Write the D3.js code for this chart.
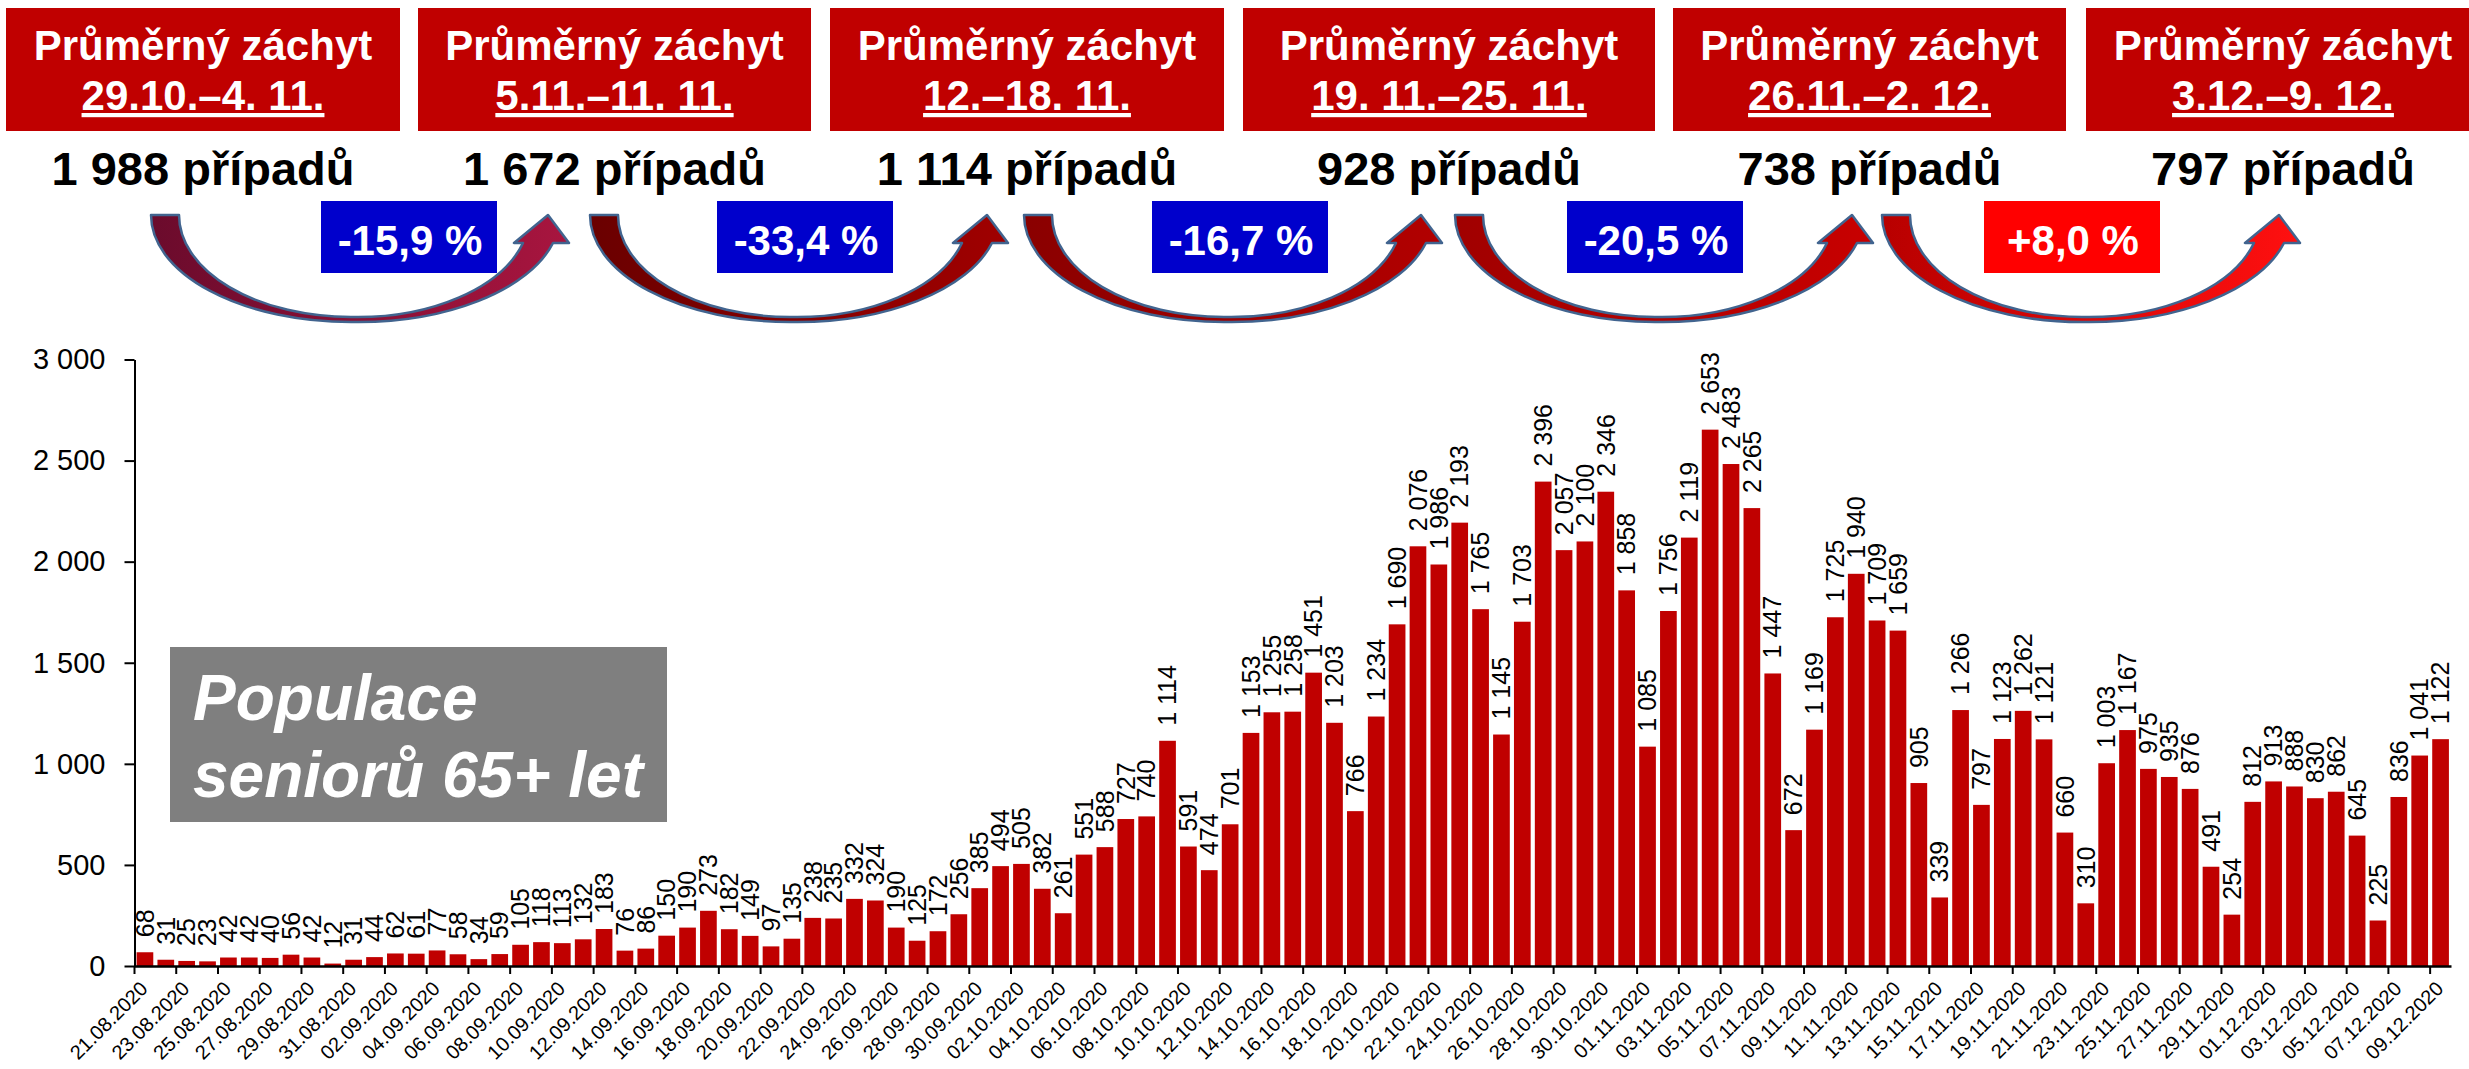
<!DOCTYPE html>
<html>
<head>
<meta charset="utf-8">
<script src="https://cdn.jsdelivr.net/npm/d3@7"></script>
<style>
  body { margin: 0; background: #fff; }
  svg { display: block; font-family: "Liberation Sans", Arial, sans-serif; }
</style>
</head>
<body>
<div id="chart"></div>
<script>
// daily cases, seniors 65+, 21.08.2020 - 09.12.2020
const cases = [
  68, 31, 25, 23, 42, 42, 40, 56, 42, 12,
  31, 44, 62, 61, 77, 58, 34, 59, 105, 118,
  113, 132, 183, 76, 86, 150, 190, 273, 182, 149,
  97, 135, 238, 235, 332, 324, 190, 125, 172, 256,
  385, 494, 505, 382, 261, 551, 588, 727, 740, 1114,
  591, 474, 701, 1153, 1255, 1258, 1451, 1203, 766, 1234,
  1690, 2076, 1986, 2193, 1765, 1145, 1703, 2396, 2057, 2100,
  2346, 1858, 1085, 1756, 2119, 2653, 2483, 2265, 1447, 672,
  1169, 1725, 1940, 1709, 1659, 905, 339, 1266, 797, 1123,
  1262, 1121, 660, 310, 1003, 1167, 975, 935, 876, 491,
  254, 812, 913, 888, 830, 862, 645, 225, 836, 1041,
  1122
];
const dates = d3.utcDay.range(new Date(Date.UTC(2020, 7, 21)), new Date(Date.UTC(2020, 11, 10)))
  .map(d3.utcFormat("%d.%m.%Y"));
const yTicks = [0, 500, 1000, 1500, 2000, 2500, 3000];

// weekly averages shown in the header
const periods = ["29.10.–4. 11.", "5.11.–11. 11.", "12.–18. 11.", "19. 11.–25. 11.", "26.11.–2. 12.", "3.12.–9. 12."];
const weekAvg = [1988, 1672, 1114, 928, 738, 797];
const boxTitle = "Průměrný záchyt";
const groupLabel = ["Populace", "seniorů 65+ let"];

const W = 2469, H = 1069;
const locale = d3.formatLocale({decimal: ",", thousands: "\u00a0", grouping: [3], currency: ["", ""], minus: "-"});
const num = locale.format(",d");
const pct = locale.format("+.1f");

const svg = d3.select("#chart").append("svg")
  .attr("width", W).attr("height", H);

// ---------- header ----------
const boxX = [6, 418, 830, 1243, 1673, 2086];
const boxW = [394, 393, 394, 412, 393, 394];
const pctX = [321, 717, 1152, 1567, 1984];
const arrowX = [151, 590, 1024, 1455, 1882];
const arrowCol = [["#6b0b2c", "#a8153f"], ["#6a0000", "#a00000"], ["#8a0000", "#b20000"],
                  ["#a00000", "#c80000"], ["#b80000", "#ff1010"]];

const header = svg.append("g");
periods.forEach((p, i) => {
  const cx = boxX[i] + boxW[i] / 2;
  header.append("rect")
    .attr("x", boxX[i]).attr("y", 8).attr("width", boxW[i]).attr("height", 123)
    .attr("fill", "#c00000");
  header.append("text")
    .attr("x", cx).attr("y", 60).attr("text-anchor", "middle")
    .attr("fill", "#fff").attr("font-weight", "bold").attr("font-size", 42)
    .text(boxTitle);
  header.append("text")
    .attr("x", cx).attr("y", 110).attr("text-anchor", "middle")
    .attr("fill", "#fff").attr("font-weight", "bold").attr("font-size", 42)
    .attr("text-decoration", "underline")
    .text(p);
  header.append("text")
    .attr("x", cx).attr("y", 185).attr("text-anchor", "middle")
    .attr("fill", "#000").attr("font-weight", "bold").attr("font-size", 47)
    .text(num(weekAvg[i]) + " případů");
});

const defs = svg.append("defs");
function arrowPath(x0) {
  return `M${x0},215 A200,107 0 0 0 ${x0 + 200},322 A202,107 0 0 0 ${x0 + 402},243 ` +
    `L${x0 + 418},243 L${x0 + 397},215 L${x0 + 363},243 L${x0 + 372},243 ` +
    `A172,102 0 0 1 ${x0 + 200},317 A172,102 0 0 1 ${x0 + 28},215 Z`;
}
arrowX.forEach((x0, i) => {
  const g = defs.append("linearGradient").attr("id", "ag" + i)
    .attr("x1", "0%").attr("x2", "100%").attr("y1", "0%").attr("y2", "0%");
  g.append("stop").attr("offset", "0%").attr("stop-color", arrowCol[i][0]);
  g.append("stop").attr("offset", "100%").attr("stop-color", arrowCol[i][1]);
  header.append("path")
    .attr("d", arrowPath(x0))
    .attr("fill", `url(#ag${i})`)
    .attr("stroke", "#41648f").attr("stroke-width", 2.5).attr("stroke-linejoin", "round");
});

pctX.forEach((x, i) => {
  const change = (weekAvg[i + 1] / weekAvg[i] - 1) * 100;
  header.append("rect")
    .attr("x", x).attr("y", 201).attr("width", 176).attr("height", 72)
    .attr("fill", change < 0 ? "#0000cc" : "#ff0000");
  header.append("text")
    .attr("x", x + 89).attr("y", 255).attr("text-anchor", "middle")
    .attr("fill", "#fff").attr("font-weight", "bold").attr("font-size", 42)
    .text(pct(change) + " %");
});

// ---------- bar chart ----------
const x = d3.scaleBand().domain(dates).range([134.5, 2451]).paddingInner(0.2).paddingOuter(0.1);
const y = d3.scaleLinear().domain([0, 3000]).range([966, 359.5]);

svg.append("g")
  .selectAll("rect")
  .data(cases)
  .join("rect")
  .attr("x", (d, i) => x(dates[i]))
  .attr("y", d => y(d))
  .attr("width", x.bandwidth())
  .attr("height", d => y(0) - y(d))
  .attr("fill", "#c00000");

svg.append("g")
  .selectAll("text")
  .data(cases)
  .join("text")
  .attr("transform", (d, i) => `translate(${x(dates[i]) + x.bandwidth() / 2},${y(d) - 15}) rotate(-90)`)
  .attr("dy", "0.35em")
  .attr("font-size", 25)
  .attr("fill", "#000")
  .text(d => num(d));

// y axis
const yAxis = svg.append("g")
  .attr("transform", "translate(134.5,0)")
  .call(d3.axisLeft(y).tickValues(yTicks).tickFormat(num).tickSize(10).tickSizeOuter(0).tickPadding(19));
yAxis.select(".domain").attr("stroke", "#000").attr("stroke-width", 2);
yAxis.selectAll(".tick line").attr("stroke", "#000").attr("stroke-width", 2);
yAxis.selectAll("text").attr("font-size", 29).attr("fill", "#000").attr("font-family", null);

// x axis
const xAxis = svg.append("g")
  .attr("transform", `translate(0,${y(0)})`)
  .call(d3.axisBottom(x).tickValues(dates.filter((d, i) => i % 2 === 0)).tickSize(0).tickSizeOuter(0));
xAxis.select(".domain").attr("stroke", "#000").attr("stroke-width", 2.5);
xAxis.selectAll(".tick line")
  .attr("x1", -x.step() / 2).attr("x2", -x.step() / 2)
  .attr("y1", 0).attr("y2", 8)
  .attr("stroke", "#000").attr("stroke-width", 2);
xAxis.selectAll("text")
  .attr("font-size", 20).attr("fill", "#000").attr("font-family", null)
  .attr("y", null).attr("dy", null)
  .attr("text-anchor", "end")
  .attr("transform", "translate(4,24) rotate(-45)");

// group label
svg.append("rect")
  .attr("x", 170).attr("y", 647).attr("width", 497).attr("height", 175)
  .attr("fill", "#7f7f7f");
groupLabel.forEach((t, i) => {
  svg.append("text")
    .attr("x", 193).attr("y", 720 + i * 77)
    .attr("fill", "#fff").attr("font-weight", "bold").attr("font-style", "italic")
    .attr("font-size", 64)
    .text(t);
});
</script>
</body>
</html>
